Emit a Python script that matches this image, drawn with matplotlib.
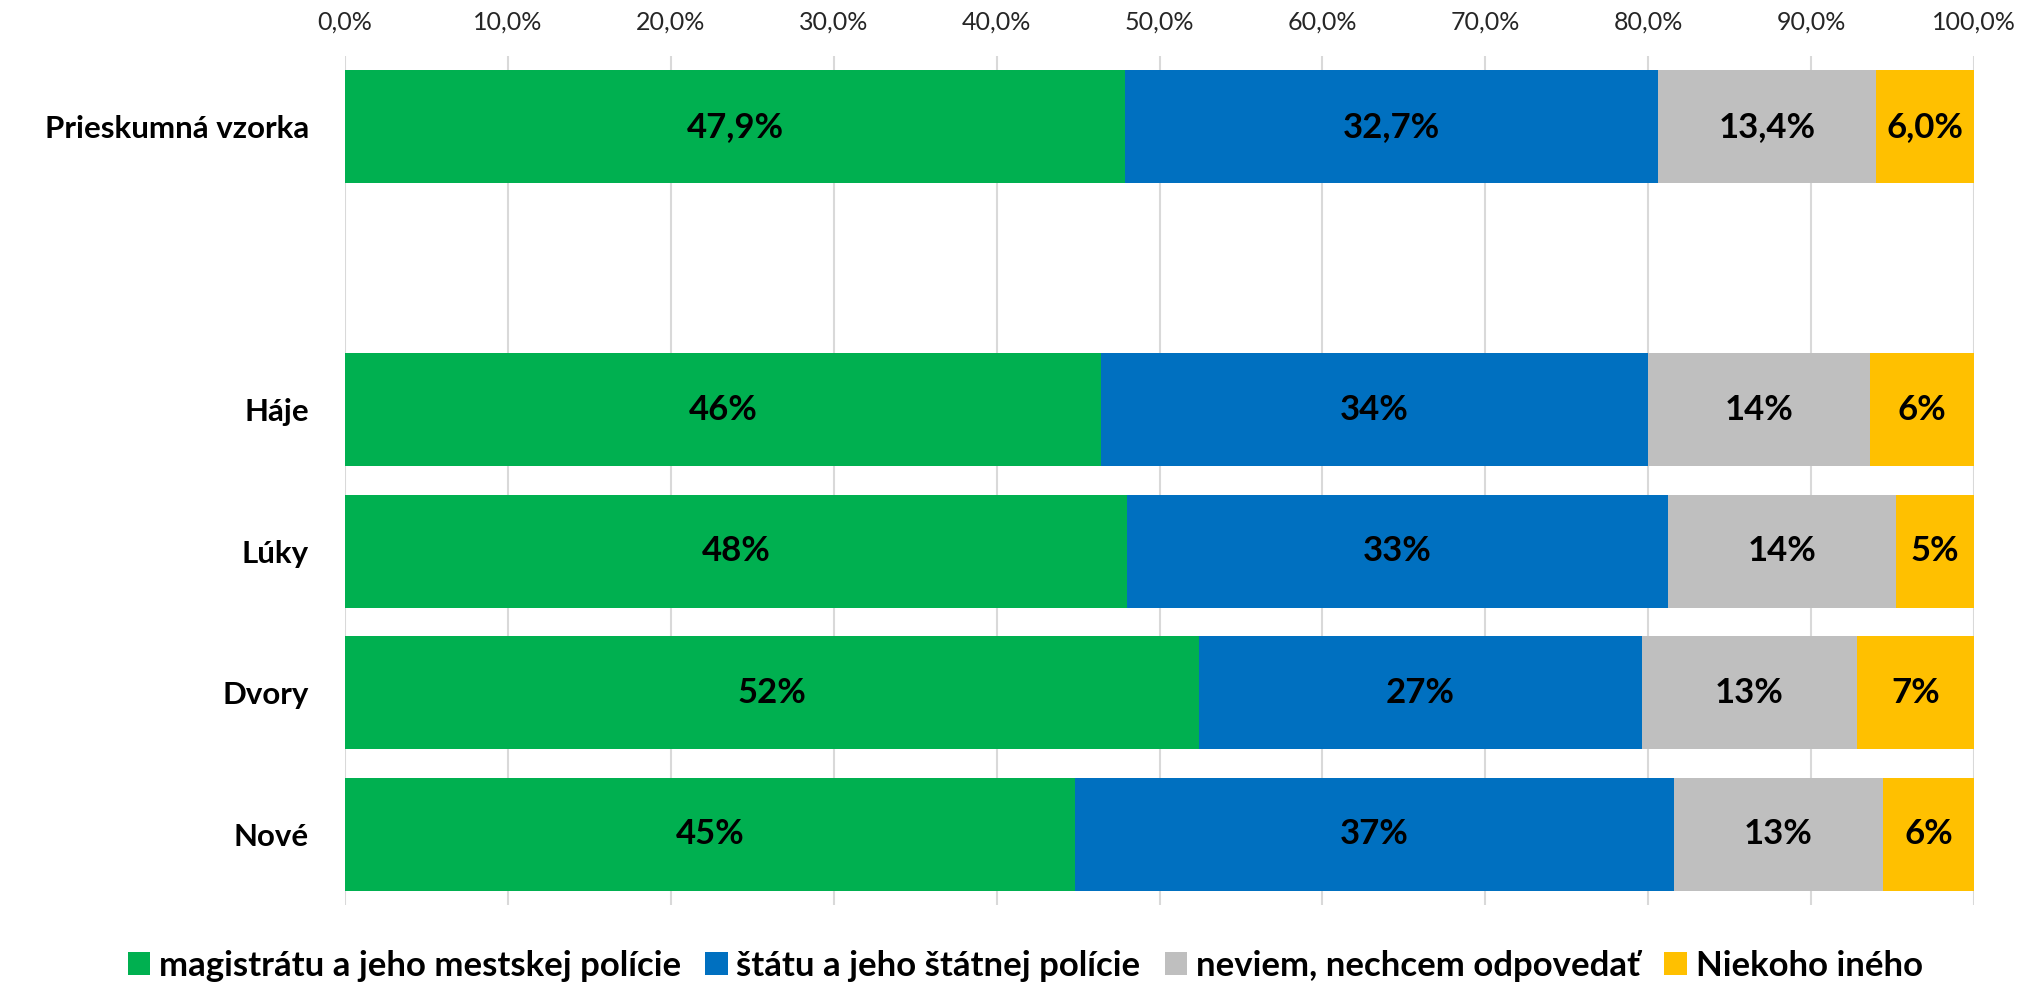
import numpy as np
import matplotlib
matplotlib.use("Agg")
import matplotlib.pyplot as plt
from matplotlib.ticker import FuncFormatter

plt.rcParams['font.family'] = ['Lato', 'DejaVu Sans']

# rows from top to bottom, the empty string is the spacer row
categories = ["Prieskumná vzorka", "", "Háje", "Lúky", "Dvory", "Nové"]
series_names = ["magistrátu a jeho mestskej polície",
                "štátu a jeho štátnej polície",
                "neviem, nechcem odpovedať",
                "Niekoho iného"]
magistrat = [47.9, np.nan, 46.4, 48.0, 52.4, 44.8]
stat = [32.7, np.nan, 33.6, 33.2, 27.2, 36.8]
neviem = [13.4, np.nan, 13.6, 14.0, 13.2, 12.8]
niekto = [6.0, np.nan, 6.4, 4.8, 7.2, 5.6]
# first row is labelled with one decimal, the districts as whole numbers
label_decimals = [1, None, 0, 0, 0, 0]
colors = ["#00B050", "#0070C0", "#BFBFBF", "#FFC000"]

fig = plt.figure(figsize=(20.34, 9.84), dpi=100)
ax = fig.add_axes([345 / 2034, 1 - 905 / 984, (1974 - 345) / 2034, (905 - 56) / 984])

y = np.arange(len(categories))
left = np.zeros(len(categories))
for vals, name, col in zip([magistrat, stat, neviem, niekto], series_names, colors):
    vals = np.array(vals, dtype=float)
    w = np.nan_to_num(vals)
    ax.barh(y, w, left=left, height=0.8, color=col, label=name, zorder=2)
    for i, v in enumerate(vals):
        if np.isnan(v):
            continue
        d = label_decimals[i]
        txt = f"{v:.{d}f}%".replace(".", ",")
        ax.text(left[i] + v / 2, i, txt, ha="center", va="center",
                fontsize=25, fontweight="bold", color="black", zorder=3)
    left += w

ax.set_xlim(0, 100)
ax.set_ylim(5.5, -0.5)
ax.set_xticks(np.arange(0, 101, 10))
ax.xaxis.set_major_formatter(FuncFormatter(lambda v, p: f"{v:.1f}%".replace(".", ",")))
ax.xaxis.tick_top()
ax.tick_params(axis="x", length=0, labelsize=18, colors="#262626", pad=16)
ax.set_yticks(y)
ax.set_yticklabels(categories, fontsize=22.5, fontweight="bold")
ax.tick_params(axis="y", length=0, pad=26)
ax.grid(axis="x", color="#D9D9D9", linewidth=1.5, zorder=0)
for s in ax.spines.values():
    s.set_visible(False)

fig.legend(loc="center", bbox_to_anchor=(0.504, 1 - 966 / 984), ncol=4, frameon=False,
           prop={"size": 25, "weight": "bold"}, handlelength=0.65, handleheight=0.65,
           handletextpad=0.25, columnspacing=0.7)

fig.savefig("out.png", dpi=100)
